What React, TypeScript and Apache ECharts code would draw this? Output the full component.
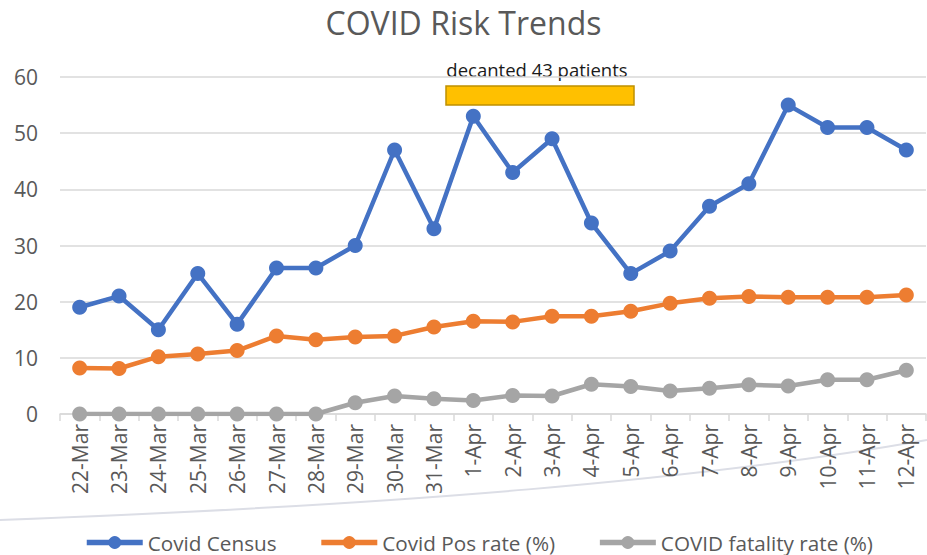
import React, { useEffect, useRef } from "react";
import * as echarts from "echarts";

const categories = [
  "22-Mar", "23-Mar", "24-Mar", "25-Mar", "26-Mar", "27-Mar", "28-Mar", "29-Mar", "30-Mar", "31-Mar",
  "1-Apr", "2-Apr", "3-Apr", "4-Apr", "5-Apr", "6-Apr", "7-Apr", "8-Apr", "9-Apr", "10-Apr", "11-Apr", "12-Apr",
];
const covidCensus = [19, 21, 15, 25, 16, 26, 26, 30, 47, 33, 53, 43, 49, 34, 25, 29, 37, 41, 55, 51, 51, 47];
const covidPosRate = [8.2, 8.1, 10.2, 10.7, 11.3, 13.9, 13.2, 13.7, 13.9, 15.5, 16.5, 16.4, 17.4, 17.4, 18.3, 19.7, 20.6, 20.9, 20.8, 20.8, 20.8, 21.2];
const covidFatality = [0, 0, 0, 0, 0, 0, 0, 2.0, 3.2, 2.7, 2.4, 3.3, 3.2, 5.3, 4.9, 4.1, 4.6, 5.2, 5.0, 6.1, 6.1, 7.8];
const yTicks = { min: 0, max: 60, interval: 10 };
const annotationText = "decanted 43 patients";

const FONT = "'Open Sans', 'Noto Sans', sans-serif";
const TXT = "#595959";

export default function App() {
  const ref = useRef<HTMLDivElement>(null);
  useEffect(() => {
    if (!ref.current) return;
    const chart = echarts.init(ref.current, undefined, { renderer: "svg" });
    const mkSeries = (name: string, data: number[], color: string, z: number) => ({
      name,
      type: "line",
      data,
      symbol: "circle",
      symbolSize: 15,
      z,
      itemStyle: { color },
      lineStyle: { color, width: 4.5 },
    });
    chart.setOption({
      animation: false,
      backgroundColor: "#ffffff",
      textStyle: { fontFamily: FONT },
      title: {
        text: "COVID Risk Trends",
        left: "center",
        top: 1,
        textStyle: { fontFamily: FONT, fontSize: 32, fontWeight: "normal", color: TXT },
      },
      grid: { left: 60, right: 1, top: 77, bottom: 141, containLabel: false },
      xAxis: {
        type: "category",
        data: categories,
        boundaryGap: true,
        axisLine: { lineStyle: { color: "#D9D9D9", width: 1.5 } },
        axisTick: { show: true, length: 7, lineStyle: { color: "#D9D9D9", width: 1.5 } },
        axisLabel: { rotate: 90, interval: 0, color: TXT, fontSize: 21, fontFamily: FONT, margin: 10 },
        splitLine: { show: false },
      },
      yAxis: {
        type: "value",
        min: yTicks.min,
        max: yTicks.max,
        interval: yTicks.interval,
        axisLine: { show: false },
        axisTick: { show: false },
        axisLabel: { color: TXT, fontSize: 21, fontFamily: FONT, margin: 22 },
        splitLine: { lineStyle: { color: "#D9D9D9", width: 1.5 } },
      },
      legend: {
        top: 527,
        left: 79,
        itemWidth: 56,
        itemHeight: 16,
        itemGap: 42,
        lineStyle: { width: 5.5 },
        textStyle: { color: TXT, fontSize: 20.7, fontFamily: FONT },
        data: ["Covid Census", "Covid Pos rate (%)", "COVID fatality rate (%)"],
      },
      graphic: [
        {
          type: "bezierCurve",
          z: -10,
          silent: true,
          shape: { x1: 0, y1: 520, cpx1: 400, cpy1: 505, cpx2: 700, cpy2: 480, x2: 927, y2: 440 },
          style: { stroke: "#DCDEE6", lineWidth: 2, fill: null },
        },
        {
          type: "rect",
          shape: { x: 446, y: 86, width: 188, height: 19 },
          style: { fill: "#FFC000", stroke: "#BF9000", lineWidth: 1.5 },
        },
        {
          type: "text",
          x: 537,
          y: 69,
          style: {
            text: annotationText,
            fill: "#1a1a1a",
            fontSize: 18.5,
            fontFamily: FONT,
            align: "center",
            verticalAlign: "middle",
          },
        },
      ],
      series: [
        mkSeries("Covid Census", covidCensus, "#4472C4", 2),
        mkSeries("Covid Pos rate (%)", covidPosRate, "#ED7D31", 3),
        mkSeries("COVID fatality rate (%)", covidFatality, "#A5A5A5", 4),
      ],
    });
    return () => chart.dispose();
  }, []);
  return <div ref={ref} style={{ width: 927, height: 555, position: "absolute", left: 0, top: 0 }} />;
}
